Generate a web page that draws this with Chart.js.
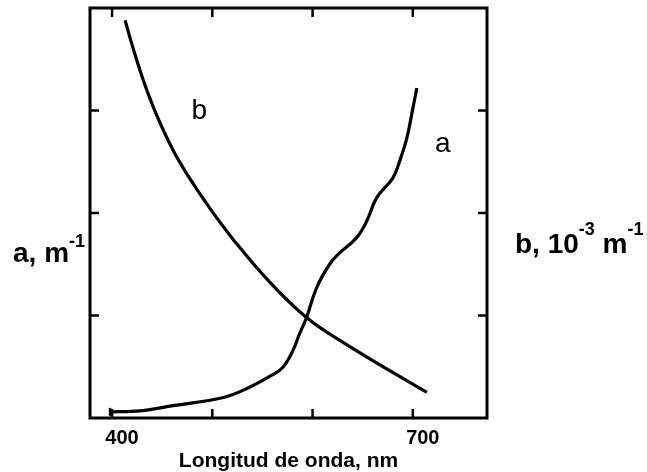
<!DOCTYPE html>
<html>
<head>
<meta charset="utf-8">
<script src="https://cdn.jsdelivr.net/npm/chart.js@4"></script>
<style>
  html, body { margin: 0; padding: 0; background: #fff; }
  #wrap { width: 647px; height: 472px; }
</style>
</head>
<body>
<div id="wrap"><canvas id="chart"></canvas></div>
<script>
// curve a: absorption, curve b: scattering (relative units, 4 divisions)
const wavelengthA = [398, 428, 461, 511, 535, 558, 570, 580, 587, 594, 604, 617, 627, 644, 654, 664, 680, 687, 694, 700, 704];
const absorptionA = [0.06, 0.07, 0.12, 0.20, 0.29, 0.41, 0.49, 0.65, 0.82, 0.98, 1.27, 1.50, 1.61, 1.76, 1.92, 2.15, 2.34, 2.51, 2.73, 3.02, 3.22];

const wavelengthB = [413, 420, 431, 443, 460, 476, 498, 521, 555, 594, 630, 674, 714];
const scatteringB = [3.88, 3.64, 3.30, 2.99, 2.63, 2.36, 2.04, 1.74, 1.35, 0.98, 0.74, 0.48, 0.25];

const xTicks = [400, 500, 600, 700];
const xTickLabels = ['400', '', '', '700'];
const yTicks = [1, 2, 3];

const FONT = '"Liberation Sans", Arial, sans-serif';

const framePlugin = {
    id: 'frame',
    afterDraw(chart) {
        const ctx = chart.ctx;
        const area = chart.chartArea;
        const xs = chart.scales.x;
        const ys = chart.scales.y;
        const tick = 9;

        ctx.save();
        ctx.strokeStyle = '#000';
        ctx.lineWidth = 3;
        ctx.strokeRect(area.left, area.top, area.right - area.left, area.bottom - area.top);

        ctx.lineWidth = 2.5;
        ctx.beginPath();
        xTicks.forEach(v => {
            const px = xs.getPixelForValue(v);
            ctx.moveTo(px, area.bottom);
            ctx.lineTo(px, area.bottom - tick);
            ctx.moveTo(px, area.top);
            ctx.lineTo(px, area.top + tick);
        });
        yTicks.forEach(v => {
            const py = ys.getPixelForValue(v);
            ctx.moveTo(area.left, py);
            ctx.lineTo(area.left + tick, py);
            ctx.moveTo(area.right, py);
            ctx.lineTo(area.right - tick, py);
        });
        ctx.stroke();

        // curve names inside the plot
        ctx.fillStyle = '#000';
        ctx.font = '28px ' + FONT;
        ctx.textAlign = 'center';
        ctx.textBaseline = 'alphabetic';
        ctx.fillText('b', xs.getPixelForValue(487), ys.getPixelForValue(2.92));
        ctx.fillText('a', xs.getPixelForValue(730), ys.getPixelForValue(2.6));

        // side axis labels with superscripts
        const drawParts = (x, base, size, rise, parts) => {
            ctx.textAlign = 'left';
            parts.forEach(p => {
                ctx.font = 'bold ' + (p.sup ? 18 : size) + 'px ' + FONT;
                ctx.fillText(p.t, x, p.sup ? base - rise : base);
                x += ctx.measureText(p.t).width;
            });
        };
        drawParts(area.left - 77, ys.getPixelForValue(1.52), 28, 15,
            [{ t: 'a, m' }, { t: '-1', sup: true }]);
        drawParts(area.right + 28, ys.getPixelForValue(1.61), 28, 18,
            [{ t: 'b, 10' }, { t: '-3', sup: true }, { t: ' m' }, { t: '-1', sup: true }]);
        ctx.restore();
    }
};

new Chart(document.getElementById('chart'), {
    type: 'line',
    data: {
        datasets: [{
            label: 'a',
            data: wavelengthA.map((w, i) => ({ x: w, y: absorptionA[i] })),
            borderColor: '#000',
            borderWidth: 3.2,
            tension: 0.4,
            pointStyle: 'line',
            rotation: 90,
            pointBorderWidth: 2.5,
            pointBorderColor: '#000',
            pointRadius: ctx => ctx.dataIndex === 0 ? 4 : 0
        }, {
            label: 'b',
            data: wavelengthB.map((w, i) => ({ x: w, y: scatteringB[i] })),
            borderColor: '#000',
            borderWidth: 3.2,
            tension: 0.4,
            pointRadius: 0
        }]
    },
    options: {
        responsive: true,
        maintainAspectRatio: false,
        animation: false,
        layout: { padding: { left: 90, right: 160, top: 8, bottom: 0 } },
        plugins: {
            legend: { display: false },
            tooltip: { enabled: false }
        },
        scales: {
            x: {
                type: 'linear',
                min: 378,
                max: 774,
                afterBuildTicks: scale => { scale.ticks = xTicks.map(v => ({ value: v })); },
                ticks: {
                    autoSkip: false,
                    maxRotation: 0,
                    padding: 10,
                    labelOffset: 10,
                    color: '#000',
                    font: { family: FONT, size: 20, weight: 'bold', lineHeight: 1 },
                    callback: (v, i) => xTickLabels[i]
                },
                grid: { display: false, drawTicks: false },
                border: { display: false },
                title: {
                    display: true,
                    text: 'Longitud de onda, nm',
                    color: '#000',
                    font: { family: FONT, size: 21, weight: 'bold', lineHeight: 1 },
                    padding: { top: -7, bottom: 0 }
                }
            },
            y: {
                display: false,
                min: 0,
                max: 4
            }
        }
    },
    plugins: [framePlugin]
});
</script>
</body>
</html>
